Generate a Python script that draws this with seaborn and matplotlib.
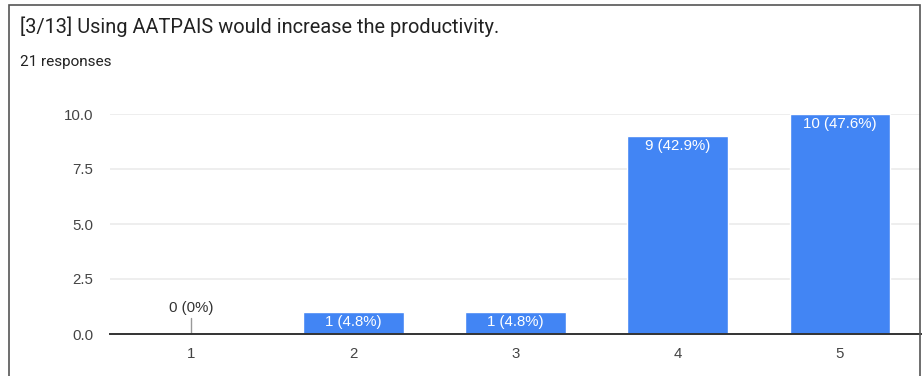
import matplotlib
matplotlib.use("Agg")
import matplotlib.pyplot as plt
import seaborn as sns
import pandas as pd
from matplotlib.patches import Rectangle

# data
categories = ["1", "2", "3", "4", "5"]
counts = [0, 1, 1, 9, 10]
labels = ["0 (0%)", "1 (4.8%)", "1 (4.8%)", "9 (42.9%)", "10 (47.6%)"]

title = "[3/13] Using AATPAIS would increase the productivity."
subtitle = "21 responses"

sns.set_theme(style="white")
plt.rcParams["font.family"] = ["Liberation Sans", "DejaVu Sans"]

df = pd.DataFrame({"answer": categories, "count": counts})

W, H = 923, 376
fig = plt.figure(figsize=(W / 100, H / 100), dpi=100)
ax = fig.add_axes([110 / W, 1 - 334 / H, 811 / W, 220 / H])

sns.barplot(data=df, x="answer", y="count", color="#4285f4", saturation=1,
            width=0.62, ax=ax, zorder=3)

ax.set_xlim(-0.5, 4.5)
ax.set_ylim(0, 10)
ax.set_yticks([0, 2.5, 5, 7.5, 10])
ax.set_yticklabels(["0.0", "2.5", "5.0", "7.5", "10.0"])
ax.set_xlabel("")
ax.set_ylabel("")
ax.yaxis.grid(True, color="#ebebeb", linewidth=1.2, zorder=0)
for s in ["top", "right", "left"]:
    ax.spines[s].set_visible(False)
ax.spines["bottom"].set_color("#333333")
ax.spines["bottom"].set_linewidth(1.4)
ax.spines["bottom"].set_zorder(4)
ax.tick_params(axis="both", length=0, labelsize=10.8, colors="#444444")
ax.tick_params(axis="x", pad=9)
ax.tick_params(axis="y", pad=12)

for i, (v, lab) in enumerate(zip(counts, labels)):
    if v == 0:
        ax.plot([i, i], [0, 0.75], color="#999999", linewidth=1, zorder=3)
        ax.text(i, 0.85, lab, ha="center", va="bottom", fontsize=10.8, color="#333333")
    else:
        ax.text(i, v - 0.12, lab, ha="center", va="top", fontsize=10.8, color="white", zorder=5)

fig.text(20 / W, 1 - 27 / H, title, fontsize=14.4, color="#222222",
         va="center", ha="left", family=["Roboto", "DejaVu Sans"])
fig.text(20 / W, 1 - 62 / H, subtitle, fontsize=11, color="#222222",
         va="center", ha="left", family=["Roboto", "DejaVu Sans"])

fig.patches.append(Rectangle((9 / W, -0.1), 911 / W, 1 - 5 / H + 0.1,
                             transform=fig.transFigure, fill=False,
                             edgecolor="#555555", linewidth=1.2))

fig.savefig("out.png", dpi=100)
